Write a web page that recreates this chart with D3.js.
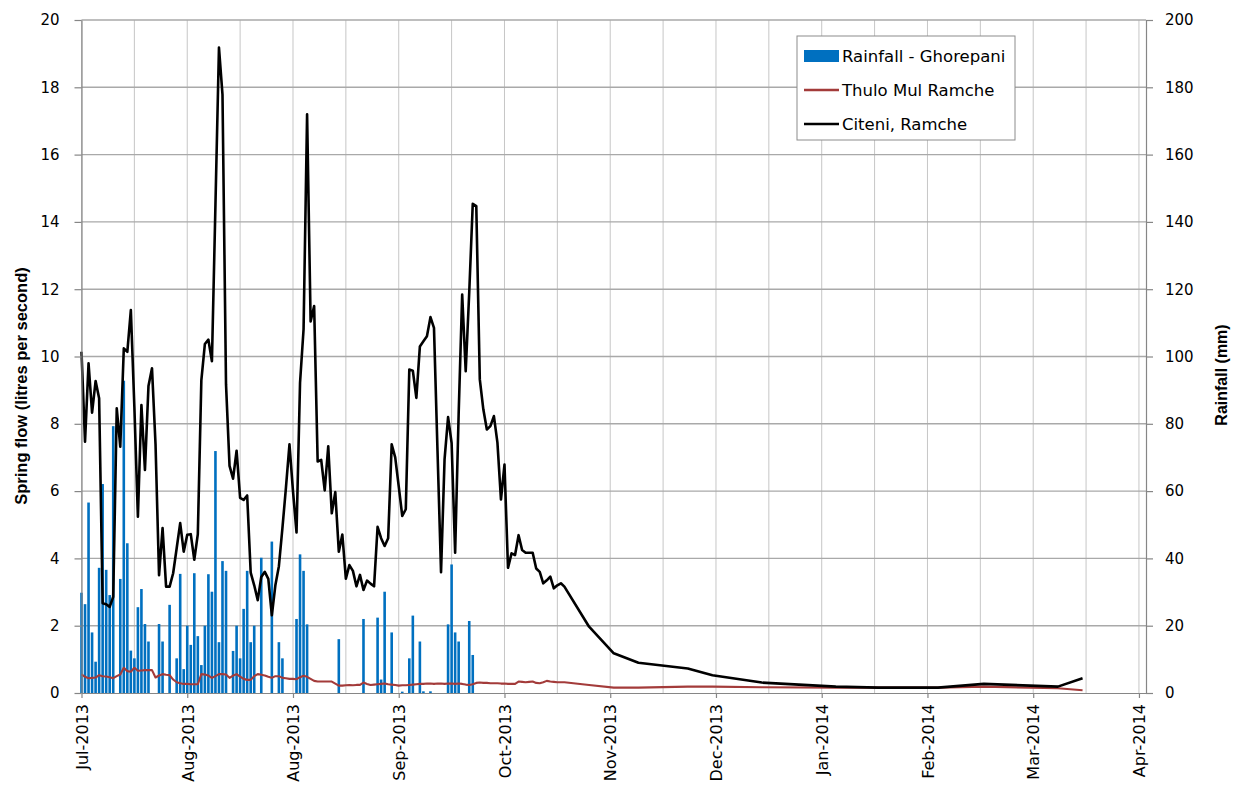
<!DOCTYPE html>
<html>
<head>
<meta charset="utf-8">
<script src="https://cdn.jsdelivr.net/npm/d3@7"></script>
<style>
  body { margin: 0; background: #fff; }
  svg { display: block; font-family: "DejaVu Sans", Verdana, sans-serif; }
</style>
</head>
<body>
<svg id="chart" width="1238" height="790"></svg>
<script>
// ---- Data -------------------------------------------------------------
// Daily series start on this date (day 0).
const startDate = "2013-07-02";
const axisEndDate = "2014-04-30";

// Citeni, Ramche spring flow (l/s), daily readings from the start date
const citeniDaily = [
  10.14, 7.47, 9.8, 8.33, 9.27, 8.76, 2.67, 2.64, 2.56, 2.86,
  8.46, 7.32, 10.24, 10.14, 11.38, 8.5, 5.24, 8.56, 6.63, 9.12,
  9.65, 7.4, 3.5, 4.9, 3.16, 3.16, 3.56, 4.3, 5.05, 4.2,
  4.7, 4.72, 3.96, 4.72, 9.29, 10.37, 10.5, 9.86, 14.5, 19.18,
  17.78, 9.17, 6.75, 6.37, 7.2, 5.8, 5.74, 5.87, 3.58, 3.2,
  2.76, 3.45, 3.6, 3.39, 2.31, 3.2, 3.77, 4.9, 6.1, 7.39,
  6.0, 4.77, 9.22, 10.81, 17.2, 11.04, 11.5, 6.88, 6.93, 6.02,
  7.33, 5.34, 5.97, 4.2, 4.71, 3.4, 3.8, 3.63, 3.17, 3.51,
  3.06, 3.34, 3.25, 3.17, 4.94, 4.6, 4.37, 4.6, 7.39, 7.0,
  6.14, 5.26, 5.46, 9.61, 9.58, 8.77, 10.3, 10.45, 10.6, 11.17,
  10.85, 7.2, 3.59, 6.94, 8.2, 7.43, 4.17, 8.3, 11.84, 9.56,
  11.9, 14.54, 14.47, 9.32, 8.43, 7.83, 7.93, 8.23, 7.44, 5.75,
  6.79, 3.72, 4.15, 4.1, 4.69, 4.25, 4.17, 4.17, 4.17, 3.7,
  3.6, 3.26, 3.35, 3.46, 3.11, 3.2, 3.26, 3.16
];

// Thulo Mul Ramche spring flow (l/s), daily readings from the start date
const thuloDaily = [
  0.55, 0.48, 0.44, 0.45, 0.46, 0.53, 0.5, 0.49, 0.47, 0.44,
  0.5, 0.55, 0.75, 0.65, 0.63, 0.75, 0.66, 0.67, 0.68, 0.68,
  0.68, 0.46, 0.52, 0.56, 0.54, 0.53, 0.4, 0.32, 0.29, 0.27,
  0.27, 0.26, 0.26, 0.26, 0.56, 0.55, 0.52, 0.45, 0.5, 0.56,
  0.56, 0.55, 0.45, 0.52, 0.56, 0.49, 0.42, 0.39, 0.39, 0.5,
  0.56, 0.54, 0.52, 0.48, 0.45, 0.5, 0.5, 0.45, 0.44, 0.42,
  0.42, 0.41, 0.47, 0.51, 0.48, 0.42, 0.36, 0.34, 0.34, 0.34,
  0.34, 0.34, 0.28, 0.22, 0.22, 0.23, 0.24, 0.23, 0.24, 0.24,
  0.31, 0.27, 0.24, 0.25, 0.26, 0.27, 0.28, 0.26, 0.25, 0.24,
  0.22, 0.23, 0.23, 0.24, 0.25, 0.26, 0.27, 0.27, 0.28, 0.28,
  0.27, 0.28, 0.28, 0.27, 0.28, 0.28, 0.27, 0.28, 0.27, 0.25,
  0.24, 0.26, 0.3, 0.31, 0.3, 0.3, 0.29, 0.29, 0.29, 0.28,
  0.28, 0.27, 0.27, 0.27, 0.34, 0.33, 0.32, 0.33, 0.34, 0.3,
  0.29, 0.32, 0.36, 0.34, 0.33, 0.32, 0.32, 0.32
];

// Dry-season readings taken at longer intervals
const tailDates = [
  "2013-11-23", "2013-11-30", "2013-12-07", "2013-12-21", "2013-12-28", "2014-01-11",
  "2014-02-01", "2014-02-13", "2014-03-02", "2014-03-15", "2014-04-05", "2014-04-12"
];
const citeniTail = [1.97, 1.18, 0.9, 0.73, 0.53, 0.31, 0.19, 0.16, 0.16, 0.27, 0.19, 0.44];
const thuloTail  = [0.24, 0.16, 0.16, 0.19, 0.19, 0.17, 0.16, 0.16, 0.16, 0.19, 0.14, 0.08];

// Daily rainfall at Ghorepani (mm) from the start date
const rainDaily = [
  29.8, 26.4, 56.6, 18.0, 9.3, 37.2, 62.1, 36.6, 29.1, 79.3,
  0, 33.9, 92.8, 44.5, 12.6, 10.3, 25.5, 30.9, 20.5, 15.3,
  0, 0, 20.5, 15.3, 0, 26.2, 0, 10.3, 35.4, 7.1,
  20, 14.3, 35.6, 16.9, 8.3, 20, 35.3, 30.1, 71.9, 15.1,
  39.2, 36.3, 0, 12.5, 20, 10.3, 25, 36.3, 15.1, 20,
  0, 40.2, 0, 0, 45, 0, 15.1, 10.3, 0, 0,
  0, 22, 41.2, 36.3, 20.4, 0, 0, 0, 0, 0,
  0, 0, 0, 16, 0, 0, 0, 0, 0, 0,
  22, 0, 0, 0, 22.4, 4, 30.1, 0, 18, 0,
  0, 0.4, 0, 10.3, 23, 0, 15.3, 0.5, 0, 0.5,
  0, 0, 0, 0, 20.4, 38.2, 18, 15.3, 0, 0,
  21.4, 11.3
];

const tickLabels = ["Jul-2013", "Aug-2013", "Aug-2013", "Sep-2013", "Oct-2013", "Nov-2013",
                    "Dec-2013", "Jan-2014", "Feb-2014", "Mar-2014", "Apr-2014"];
const flowTicks = [0, 2, 4, 6, 8, 10, 12, 14, 16, 18, 20];
const rainTicks = [0, 20, 40, 60, 80, 100, 120, 140, 160, 180, 200];

const seriesNames = ["Rainfall - Ghorepani", "Thulo Mul Ramche", "Citeni, Ramche"];
const colors = { rain: "#0070C0", thulo: "#A33B3A", citeni: "#000000" };

// ---- Scales -----------------------------------------------------------
const plot = { left: 81.5, right: 1146, top: 20, bottom: 693 };
const parse = d3.utcParse("%Y-%m-%d");
const t0 = parse(startDate);
const dayDate = i => d3.utcDay.offset(t0, i);

const x = d3.scaleUtc().domain([t0, parse(axisEndDate)]).range([plot.left, plot.right]);
const yFlow = d3.scaleLinear().domain([0, 20]).range([plot.bottom, plot.top]);
const yRain = d3.scaleLinear().domain([0, 200]).range([plot.bottom, plot.top]);

const citeni = citeniDaily.map((v, i) => ({ date: dayDate(i), v }))
  .concat(tailDates.map((d, i) => ({ date: parse(d), v: citeniTail[i] })));
const thulo = thuloDaily.map((v, i) => ({ date: dayDate(i), v }))
  .concat(tailDates.map((d, i) => ({ date: parse(d), v: thuloTail[i] })));
const rain = rainDaily.map((v, i) => ({ date: dayDate(i), v }));

const tickDates = d3.range(0, tickLabels.length).map(k => dayDate(k * 30));
const gridDates = d3.range(0, (tickLabels.length - 1) * 2 + 1).map(k => dayDate(k * 15));

const svg = d3.select("#chart");
svg.append("rect").attr("width", 1238).attr("height", 790).attr("fill", "#fff");

// ---- Gridlines --------------------------------------------------------
const grid = svg.append("g");
grid.selectAll("line.v").data(gridDates).join("line")
  .attr("class", "v")
  .attr("x1", d => x(d)).attr("x2", d => x(d))
  .attr("y1", plot.top).attr("y2", plot.bottom)
  .attr("stroke", "#c6c6c6").attr("stroke-width", 1);
grid.selectAll("line.h").data(flowTicks.slice(1)).join("line")
  .attr("class", "h")
  .attr("x1", plot.left).attr("x2", plot.right)
  .attr("y1", d => yFlow(d)).attr("y2", d => yFlow(d))
  .attr("stroke", "#a9a9a9").attr("stroke-width", 1.4);

// ---- Rainfall bars ----------------------------------------------------
const barW = 2.6;
svg.append("g").selectAll("rect").data(rain.filter(d => d.v > 0)).join("rect")
  .attr("x", d => x(d.date) - barW / 2)
  .attr("width", barW)
  .attr("y", d => yRain(d.v))
  .attr("height", d => plot.bottom - yRain(d.v))
  .attr("fill", colors.rain);

// ---- Spring flow lines ------------------------------------------------
const line = d3.line().x(d => x(d.date)).y(d => yFlow(d.v));
svg.append("path").datum(thulo)
  .attr("d", line).attr("fill", "none")
  .attr("stroke", colors.thulo).attr("stroke-width", 2.1).attr("stroke-linejoin", "round");
svg.append("path").datum(citeni)
  .attr("d", line).attr("fill", "none")
  .attr("stroke", colors.citeni).attr("stroke-width", 2.6).attr("stroke-linejoin", "round");

// ---- Axes -------------------------------------------------------------
const axisColor = "#868686";
function styleAxis(g) {
  g.select(".domain").attr("stroke", axisColor).attr("stroke-width", 1.2);
  g.selectAll(".tick line").attr("stroke", axisColor).attr("stroke-width", 1.2);
  g.selectAll(".tick text").attr("fill", "#000").style("font-size", "15px")
    .style("font-family", "'DejaVu Sans', Verdana, sans-serif");
}

const xAxis = svg.append("g").attr("transform", `translate(0,${plot.bottom})`)
  .call(d3.axisBottom(x).tickValues(tickDates).tickFormat((d, i) => tickLabels[i])
    .tickSizeInner(5).tickSizeOuter(0));
styleAxis(xAxis);
xAxis.selectAll(".tick text")
  .attr("transform", "rotate(-90)")
  .attr("text-anchor", "end")
  .attr("x", -11).attr("y", 0).attr("dy", "0.36em")
  .style("font-size", "16px");

const leftAxis = svg.append("g").attr("transform", `translate(${plot.left},0)`)
  .call(d3.axisLeft(yFlow).tickValues(flowTicks).tickSizeInner(7).tickSizeOuter(0).tickPadding(15));
styleAxis(leftAxis);

const rightAxis = svg.append("g").attr("transform", `translate(${plot.right},0)`)
  .call(d3.axisRight(yRain).tickValues(rainTicks).tickSizeInner(7).tickSizeOuter(0).tickPadding(12));
styleAxis(rightAxis);

// ---- Axis titles ------------------------------------------------------
svg.append("text")
  .attr("transform", `translate(21,386) rotate(-90)`)
  .attr("text-anchor", "middle").attr("dy", "0.35em")
  .style("font-family", "'Liberation Sans', Arial, sans-serif")
  .style("font-weight", "bold").style("font-size", "16.5px")
  .text("Spring flow (litres per second)");
svg.append("text")
  .attr("transform", `translate(1221,375) rotate(-90)`)
  .attr("text-anchor", "middle").attr("dy", "0.35em")
  .style("font-family", "'Liberation Sans', Arial, sans-serif")
  .style("font-weight", "bold").style("font-size", "16px")
  .text("Rainfall (mm)");

// ---- Legend -----------------------------------------------------------
const legend = svg.append("g").attr("transform", "translate(797,36)");
legend.append("rect").attr("width", 218).attr("height", 104)
  .attr("fill", "#fff").attr("stroke", "#8c8c8c").attr("stroke-width", 1);
const rows = [
  { name: seriesNames[0], type: "bar", color: colors.rain },
  { name: seriesNames[1], type: "line", color: colors.thulo, w: 2.4 },
  { name: seriesNames[2], type: "line", color: colors.citeni, w: 2.6 }
];
rows.forEach((r, i) => {
  const cy = 20 + i * 34;
  if (r.type === "bar") {
    legend.append("rect").attr("x", 7).attr("y", cy - 6).attr("width", 35).attr("height", 12).attr("fill", r.color);
  } else {
    legend.append("line").attr("x1", 7).attr("x2", 42).attr("y1", cy).attr("y2", cy)
      .attr("stroke", r.color).attr("stroke-width", r.w);
  }
  legend.append("text").attr("x", 45).attr("y", cy).attr("dy", "0.36em")
    .style("font-size", "16.5px").attr("fill", "#000").text(r.name);
});
</script>
</body>
</html>
